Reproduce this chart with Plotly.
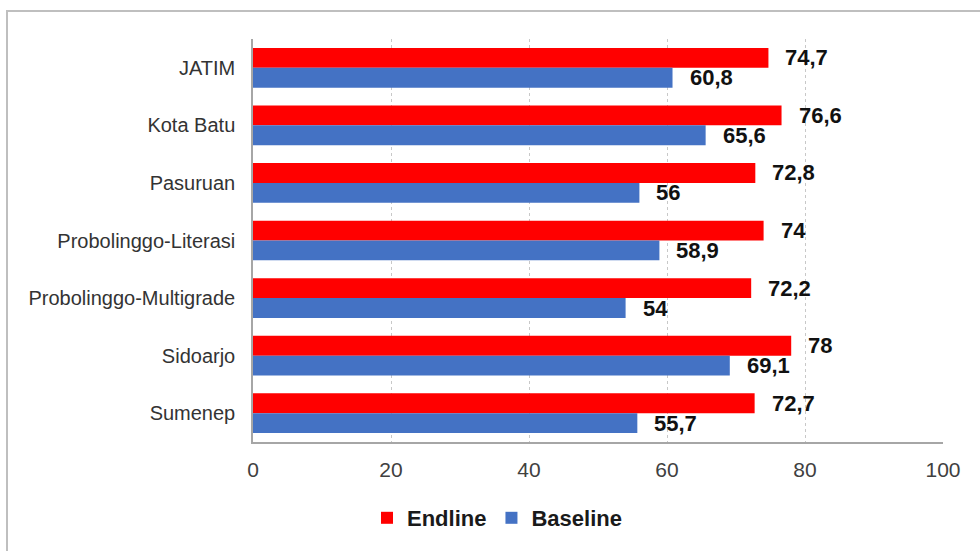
import plotly.graph_objects as go

# Data
categories = ["JATIM", "Kota Batu", "Pasuruan", "Probolinggo-Literasi",
              "Probolinggo-Multigrade", "Sidoarjo", "Sumenep"]
endline = [74.7, 76.6, 72.8, 74.0, 72.2, 78.0, 72.7]
baseline = [60.8, 65.6, 56.0, 58.9, 54.0, 69.1, 55.7]
x_ticks = [0, 20, 40, 60, 80, 100]

RED = "#FF0000"
BLUE = "#4472C4"
FONT = "Liberation Sans, Arial, sans-serif"


def fmt(v):
    return f"{v:g}".replace(".", ",")


fig = go.Figure()
fig.add_trace(go.Bar(name="Endline", y=categories, x=endline, orientation="h",
                     marker=dict(color=RED, line=dict(width=0))))
fig.add_trace(go.Bar(name="Baseline", y=categories, x=baseline, orientation="h",
                     marker=dict(color=BLUE, line=dict(width=0))))

# Value labels placed just past the end of each bar
annotations = []
for cat, e, b in zip(categories, endline, baseline):
    for val, dy in ((e, 10), (b, -10)):
        annotations.append(dict(
            x=val, y=cat, xref="x", yref="y", text=fmt(val), showarrow=False,
            xanchor="left", yanchor="middle", xshift=15, yshift=dy,
            font=dict(family=FONT, size=22, color="#111111", weight="bold")))

# Outer frame around the chart
L, R, T, B = 253, 37, 39, 109
pw, ph = 980 - L - R, 551 - T - B
frame = dict(type="rect", xref="paper", yref="paper",
             x0=(7 - L) / pw, x1=(990 - L) / pw,
             y0=(551 - B - 560) / ph, y1=(551 - B - 11) / ph,
             line=dict(color="#BFBFBF", width=2), fillcolor="rgba(0,0,0,0)",
             layer="below")

fig.update_layout(
    width=980, height=551,
    margin=dict(l=L, r=R, t=T, b=B),
    paper_bgcolor="white", plot_bgcolor="white",
    barmode="group", bargap=0.31, bargroupgap=0.0,
    font=dict(family=FONT, color="#404040"),
    showlegend=True,
    legend=dict(orientation="h", x=(497 - L) / pw, xanchor="center",
                y=(551 - B - 518) / ph, yanchor="middle",
                font=dict(family=FONT, size=22, color="#1a1a1a", weight="bold"),
                itemwidth=30, traceorder="normal"),
    annotations=annotations,
    shapes=[frame],
    xaxis=dict(range=[0, 100], tickvals=x_ticks, ticktext=[str(t) for t in x_ticks],
               showgrid=True, gridcolor="#C8C8C8", griddash="dot", gridwidth=1,
               showline=True, linecolor="#A6A6A6", linewidth=1.5,
               zeroline=False, ticks="", ticklabelstandoff=8,
               tickfont=dict(family=FONT, size=21, color="#404040")),
    yaxis=dict(categoryorder="array", categoryarray=categories,
               autorange="reversed", showgrid=False,
               showline=True, linecolor="#A6A6A6", linewidth=1.5,
               ticks="", ticklabelstandoff=12,
               tickfont=dict(family=FONT, size=20, color="#333333")),
)

fig.write_html("out.html")
